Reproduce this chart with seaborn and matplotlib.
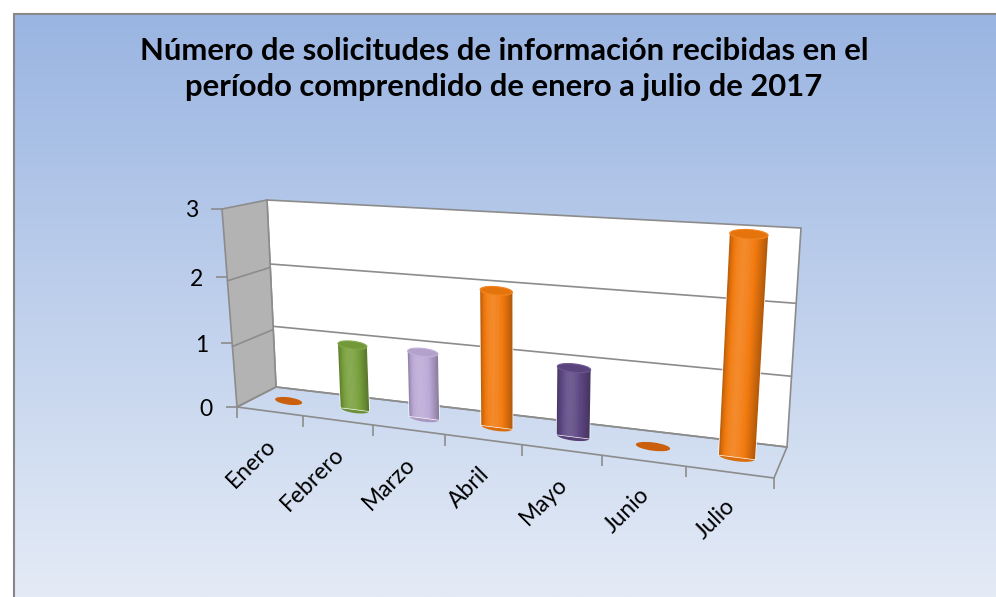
# -*- coding: utf-8 -*-
"""
Solicitudes de información recibidas (enero - julio 2017).
Cilindros en perspectiva: barras de seaborn llevadas a planos con una homografía.
"""

import numpy as np
import matplotlib
matplotlib.use('Agg')
import matplotlib.pyplot as plt
import matplotlib.lines as mlines
import matplotlib.transforms as mtransforms
from matplotlib.patches import Polygon, Ellipse, Rectangle
from matplotlib.colors import to_rgb, LinearSegmentedColormap
import seaborn as sns


# Datos
meses = ['Enero', 'Febrero', 'Marzo', 'Abril', 'Mayo', 'Junio', 'Julio']
solicitudes = [0, 1, 1, 2, 1, 0, 3]
colores = ['#DC680E', '#78A03C', '#BCA9D6', '#F27A0E', '#5E4884', '#DC680E', '#F27A0E']
valores_eje = [0, 1, 2, 3]
titulo = ('Número de solicitudes de información recibidas en el\n'
          'período comprendido de enero a julio de 2017')

ANCHO, ALTO = 996, 597
GRIS = '#8C8C8C'

# Esquinas de cada plano en píxeles de la imagen: (0,0), (1,0), (1,1), (0,1)
PARED_FONDO = [(276, 387), (787, 447), (801, 228), (267, 200)]   # (u, v)
PLANO_FRENTE = [(237, 407), (774, 478), (789, 246), (222, 209)]  # (u, v)
PISO = [(276, 387), (787, 447), (774, 478), (237, 407)]          # (u, profundidad)
PARED_IZQ = [(276, 387), (237, 407), (222, 209), (267, 200)]     # (profundidad, v)


class Homografia(mtransforms.Transform):
    input_dims = 2
    output_dims = 2

    def __init__(self, matriz):
        super().__init__()
        self.matriz = matriz

    def transform_non_affine(self, values):
        values = np.asarray(values, float)
        pts = np.column_stack([values, np.ones(len(values))]) @ self.matriz.T
        return pts[:, :2] / pts[:, 2:3]


def homografia(esquinas):
    """Cuadrado unidad -> píxeles de pantalla (origen abajo)."""
    A, b = [], []
    for (u, v), (x, y) in zip([(0, 0), (1, 0), (1, 1), (0, 1)], esquinas):
        y = ALTO - y
        A.append([u, v, 1, 0, 0, 0, -u * x, -v * x])
        b.append(x)
        A.append([0, 0, 0, u, v, 1, -u * y, -v * y])
        b.append(y)
    h = np.linalg.solve(np.array(A, float), np.array(b, float))
    return Homografia(np.append(h, 1).reshape(3, 3))


def tono(color, f):
    rgb = np.array(to_rgb(color))
    if f >= 1:
        return tuple(np.clip(rgb + (1 - rgb) * (f - 1), 0, 1))
    return tuple(rgb * f)


def perfil(t):
    # brillo a lo ancho del cilindro
    return 0.72 + 0.40 * np.sin(np.pi * t ** 0.75)


def main():
    sns.set_style('white')
    plt.rcParams['font.family'] = ['Lato', 'DejaVu Sans']

    fig = plt.figure(figsize=(ANCHO / 100, ALTO / 100), dpi=100, facecolor='white')

    # Fondo degradado del gráfico con borde gris arriba e izquierda
    fondo = fig.add_axes([14 / ANCHO, 0, 1 - 14 / ANCHO, 1 - 14 / ALTO], zorder=-1)
    cmap = LinearSegmentedColormap.from_list('fondo', ['#E4EBF6', '#9AB5E2'])
    fondo.imshow(np.linspace(0, 1, 256).reshape(-1, 1)[::-1], aspect='auto',
                 cmap=cmap, extent=[0, 1, 0, 1])
    fondo.set_axis_off()
    fig.add_artist(mlines.Line2D([14 / ANCHO, 14 / ANCHO], [0, 1 - 14 / ALTO],
                                 color='#878787', lw=1.5))
    fig.add_artist(mlines.Line2D([14 / ANCHO, 1], [1 - 14 / ALTO, 1 - 14 / ALTO],
                                 color='#878787', lw=1.5))

    fig.text(504 / ANCHO, 1 - 69 / ALTO, titulo, ha='center', va='center',
             fontsize=22.3, fontweight='bold', linespacing=1.38, color='black')

    ax = fig.add_axes([0, 0, 1, 1])
    sns.barplot(x=meses, y=solicitudes, hue=meses, palette=colores, legend=False,
                width=0.42, saturation=1, ax=ax)
    barras = list(ax.patches)
    ax.set_xlim(-0.5, len(meses) - 0.5)
    ax.set_ylim(valores_eje[0], valores_eje[-1])
    ax.set_axis_off()

    h_fondo = homografia(PARED_FONDO)
    h_frente = homografia(PLANO_FRENTE)
    h_barras = homografia([((a[0] + b[0]) / 2, (a[1] + b[1]) / 2)
                           for a, b in zip(PARED_FONDO, PLANO_FRENTE)])
    t_fondo = ax.transLimits + h_fondo
    t_frente = ax.transLimits + h_frente
    t_barras = ax.transLimits + h_barras
    cuadro = [(0, 0), (1, 0), (1, 1), (0, 1)]

    # Paredes y piso
    ax.add_patch(Polygon(cuadro, closed=True, transform=h_fondo, facecolor='white',
                         edgecolor=GRIS, lw=1.2, zorder=1))
    ax.add_patch(Polygon(cuadro, closed=True, transform=homografia(PARED_IZQ),
                         facecolor='#B3B3B3', edgecolor=GRIS, lw=1.2, zorder=1))
    ax.add_patch(Polygon(cuadro, closed=True, transform=homografia(PISO),
                         facecolor='none', edgecolor=GRIS, lw=1.2, zorder=1.5))

    # Líneas de división
    tope = valores_eje[-1]
    for v in valores_eje[1:-1]:
        ax.plot([-0.5, len(meses) - 0.5], [v, v], transform=t_fondo,
                color=GRIS, lw=1.2, zorder=2)
        ax.plot([0, 1], [v / tope, v / tope], transform=homografia(PARED_IZQ),
                color=GRIS, lw=1.2, zorder=2)

    # Ejes: marcas y etiquetas
    ax.plot([-0.5] * len(valores_eje), valores_eje, transform=t_frente, ls='none',
            marker=mlines.TICKLEFT, ms=8, mew=1.2, color=GRIS, zorder=2)
    limites = np.arange(len(meses) + 1) - 0.5
    ax.plot(limites, np.zeros(len(limites)), transform=t_frente, ls='none',
            marker=mlines.TICKDOWN, ms=8, mew=1.2, color=GRIS, zorder=2)
    for v in valores_eje:
        ax.text(-0.5, v, str(v), transform=t_frente + mtransforms.Affine2D().translate(-24, -2),
                ha='right', va='center', fontsize=16.5, color='black')
    for i, mes in enumerate(meses):
        ax.text(i, 0, mes, transform=t_frente + mtransforms.Affine2D().translate(3, -31),
                ha='right', va='center', rotation=45, rotation_mode='anchor',
                fontsize=16.5, color='black')

    # Cilindros
    tapa = 0.12
    n = 24
    for p in barras:
        x0, w, h = p.get_x(), p.get_width(), p.get_height()
        i = int(round(x0 + w / 2))
        c = colores[i]
        p.set_transform(t_barras)
        p.set_zorder(3)
        if h == 0:
            ax.add_patch(Ellipse((x0 + w / 2, 0), w, tapa, facecolor=tono(c, 0.92),
                                 lw=0, transform=t_barras, zorder=3))
            continue
        ax.add_patch(Ellipse((x0 + w / 2, 0), w, tapa, facecolor=tono(c, 0.9),
                             lw=0, transform=t_barras, zorder=2.9))
        for k in range(n):
            extra = w / n * 0.3 if k < n - 1 else 0
            ax.add_patch(Rectangle((x0 + k * w / n, 0), w / n + extra, h,
                                   facecolor=tono(c, perfil((k + 0.5) / n)), lw=0,
                                   transform=t_barras, zorder=3.1))
        ax.add_patch(Ellipse((x0 + w / 2, h), w, tapa, facecolor=tono(c, 0.95),
                             edgecolor=tono(c, 1.08), lw=0.8, transform=t_barras, zorder=3.2))

    fig.savefig('out.png', dpi=100, facecolor=fig.get_facecolor())
    plt.close('all')


if __name__ == '__main__':
    main()
